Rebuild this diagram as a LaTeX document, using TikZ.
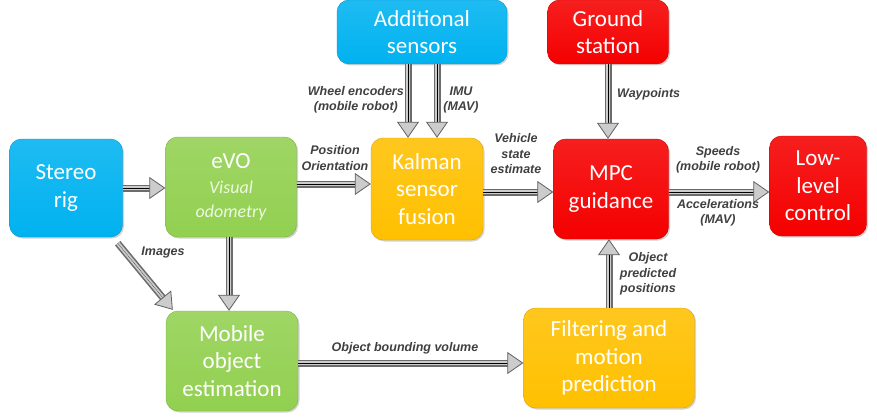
\documentclass[tikz,border=0pt]{standalone}
\usepackage{fontspec}
\newfontfamily\boxfont{Carlito}
\newfontfamily\labfont{Liberation Sans}
\usetikzlibrary{arrows.meta,shadows,calc}
\definecolor{cblue}{HTML}{00B2F0}
\definecolor{cgreen}{HTML}{92D050}
\definecolor{cyellow}{HTML}{FFC000}
\definecolor{cred}{HTML}{F50000}
\definecolor{labgray}{HTML}{404040}
\definecolor{palegreen}{HTML}{EEF8E2}
\newcommand{\smallit}{\fontsize{18}{23}\selectfont\itshape\color{palegreen}}
\tikzset{
  blk/.style={rounded corners=12pt, draw=#1!85!black, line width=0.4pt,
    top color=#1!88!white, bottom color=#1, 
    drop shadow={opacity=0.35, shadow xshift=1.5pt, shadow yshift=-1.5pt},
    text=white, align=center, inner sep=0pt,
    font=\boxfont\fontsize{23}{27.5}\selectfont},
  shaft/.style={draw=gray!85!black, line width=1.6pt, double=gray!40, double distance=3.8pt,
    shorten >=14pt},
  head/.style={-{Triangle[width=22pt,length=16pt,fill=gray!40,color=gray!75!black,line width=0.8pt]},
    line width=0.1pt, draw=none},
  lab/.style={text=labgray, align=center, inner sep=0pt,
    font=\labfont\bfseries\itshape\fontsize{12.5}{15.5}\selectfont}
}
\newcommand{\conn}[2]{\draw[shaft] #1 -- #2; \path[head,draw] #1 -- #2;}
\begin{document}
\begin{tikzpicture}[x=1pt,y=-1pt]
\useasboundingbox (0,0) rectangle (877,417);
% boxes
\node[blk=cblue, minimum width=113pt, minimum height=98pt] (stereo) at (66,188) {Stereo\\rig};
\node[blk=cgreen, minimum width=131pt, minimum height=100pt] (evo) at (231,187)
  {eVO\\[-3pt]{\smallit Visual}\\[-3pt]{\smallit odometry}};
\node[blk=cblue, minimum width=170pt, minimum height=64pt] (add) at (422,32) {Additional\\sensors};
\node[blk=cred, minimum width=121pt, minimum height=64pt] (ground) at (608,32) {Ground\\station};
\node[blk=cyellow, minimum width=112pt, minimum height=102pt] (kal) at (427,189) {Kalman\\sensor\\fusion};
\node[blk=cred, minimum width=115pt, minimum height=100pt] (mpc) at (611,189) {MPC\\guidance};
\node[blk=cred, minimum width=97pt, minimum height=100pt] (low) at (818,186) {Low-\\level\\control};
\node[blk=cgreen, minimum width=132pt, minimum height=100pt] (mob) at (232,361) {Mobile\\object\\estimation};
\node[blk=cyellow, minimum width=171pt, minimum height=100pt] (filt) at (609,358) {Filtering and\\motion\\prediction};
% connectors
\conn{(stereo.east)}{(evo.west |- stereo.east)}
\conn{([yshift=3pt]evo.east)}{([yshift=3pt]evo.east -| kal.west)}
\conn{([xshift=-14pt]add.south)}{([xshift=-14pt]add.south |- kal.north)}
\conn{([xshift=15pt]add.south)}{([xshift=15pt]add.south |- kal.north)}
\conn{([yshift=-3pt]kal.east)}{([yshift=-3pt]kal.east -| mpc.west)}
\conn{(ground.south)}{(ground.south |- mpc.north)}
\conn{([yshift=-3pt]mpc.east)}{([yshift=-3pt]mpc.east -| low.west)}
\conn{([shift={(-5pt,-6pt)}]stereo.south east)}{([shift={(7pt,1pt)}]mob.north west)}
\conn{([xshift=-2pt]evo.south)}{([xshift=-2pt]evo.south |- mob.north)}
\conn{(mob.east |- 0,363)}{(filt.west |- 0,363)}
\conn{(filt.north)}{(filt.north |- mpc.south)}
% labels
\node[lab] (lpos) at (335,158) {Position\\Orientation};
\node[lab, anchor=east] (lwheel) at (404,100) {Wheel encoders\\(mobile robot)};
\node[lab] (limu) at (461,100) {IMU\\(MAV)};
\node[lab] (lveh) at (516,154) {Vehicle\\state\\estimate};
\node[lab, anchor=west] (lway) at (617,94) {Waypoints};
\node[lab] (lspeed) at (718,160) {Speeds\\(mobile robot)};
\node[lab] (lacc) at (718,213) {Accelerations\\(MAV)};
\node[lab] (limg) at (163,252) {Images};
\node[lab] (lobv) at (405,348) {Object bounding volume};
\node[lab] (lobj) at (648,274) {Object\\predicted\\positions};
\end{tikzpicture}
\end{document}
